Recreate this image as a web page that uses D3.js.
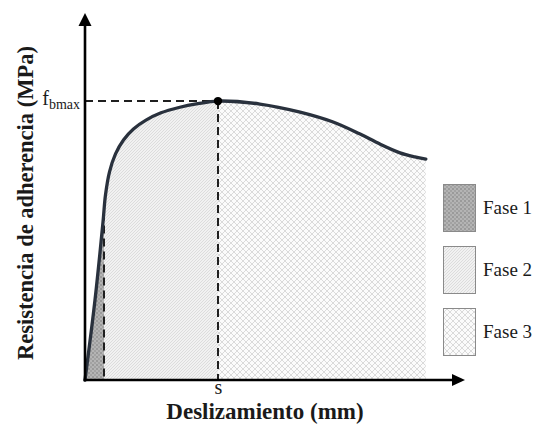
<!DOCTYPE html>
<html><head><meta charset="utf-8">
<script src="https://cdn.jsdelivr.net/npm/d3@7"></script>
<style>
body{margin:0;background:#fff}
text{font-family:"Liberation Serif","Times New Roman",serif;fill:#1a1a1a}
</style>
</head><body>
<svg id="c" width="536" height="424"></svg>
<script>
// ---- data (arbitrary units 0..100) ----
const slip   = [0, 2.63, 4.74, 5.39, 6.45, 8.03, 10.13, 12.76, 16.05, 20.0, 24.7, 29.7, 35, 46, 56.6, 65.3, 72.4, 77.6, 82.9, 86.8, 89.7];
const stress = [0, 21.8, 43.05, 50.4, 56.7, 61.6, 65.4, 68.4, 70.8, 72.8, 74.25, 75.3, 76.0, 75.2, 73.0, 70.3, 67.0, 64.3, 61.9, 60.8, 60.2];
const phaseBounds = [0, 5, 35, 89.7];           // Fase 1 | Fase 2 | Fase 3
const phases = ["Fase 1", "Fase 2", "Fase 3"];
const peakSlip = 35, peakStress = 76;
const xTickLabels = ["s"];
const yTickLabels = [["f", "bmax"]];
const xTitle = "Deslizamiento (mm)";
const yTitle = "Resistencia de adherencia (MPa)";

const svg = d3.select("#c");
const x = d3.scaleLinear().domain([0, 100]).range([85, 465]);
const y = d3.scaleLinear().domain([0, 100]).range([380, 13]);
const pts = slip.map((s, i) => [s, stress[i]]);
const curve = d3.curveCatmullRom.alpha(0.5);

// ---- patterns ----
const defs = svg.append("defs");
const p1 = defs.append("pattern").attr("id", "p1").attr("width", 4).attr("height", 4).attr("patternUnits", "userSpaceOnUse");
p1.append("rect").attr("width", 4).attr("height", 4).attr("fill", "#b4b4b4");
p1.append("rect").attr("width", 2).attr("height", 2).attr("fill", "#9a9a9a");
p1.append("rect").attr("x", 2).attr("y", 2).attr("width", 2).attr("height", 2).attr("fill", "#a2a2a2");
const p2 = defs.append("pattern").attr("id", "p2").attr("width", 3).attr("height", 3).attr("patternUnits", "userSpaceOnUse");
p2.append("rect").attr("width", 3).attr("height", 3).attr("fill", "#f1f1f1");
p2.append("path").attr("d", "M-1,1 L1,-1 M0,3 L3,0 M2,4 L4,2").attr("stroke", "#d2d2d2").attr("stroke-width", 0.7);
const p3 = defs.append("pattern").attr("id", "p3").attr("width", 6).attr("height", 6).attr("patternUnits", "userSpaceOnUse");
p3.append("rect").attr("width", 6).attr("height", 6).attr("fill", "#fbfbfb");
p3.append("path").attr("d", "M0,0 L6,6 M6,0 L0,6").attr("stroke", "#d6d6d6").attr("stroke-width", 0.9);
const fills = ["url(#p1)", "url(#p2)", "url(#p3)"];

// ---- areas per phase ----
const area = d3.area().x(d => x(d[0])).y0(y(0)).y1(d => y(d[1])).curve(curve);
phases.forEach((p, i) => {
  defs.append("clipPath").attr("id", "cl" + i).append("rect")
    .attr("x", x(phaseBounds[i])).attr("y", 0)
    .attr("width", x(phaseBounds[i + 1]) - x(phaseBounds[i])).attr("height", 424);
  svg.append("path").datum(pts).attr("d", area).attr("fill", fills[i]).attr("clip-path", `url(#cl${i})`);
});

// ---- dashed guides ----
const line = d3.line().x(d => x(d[0])).y(d => y(d[1])).curve(curve);
function dline(x1, y1, x2, y2) {
  svg.append("line").attr("x1", x1).attr("y1", y1).attr("x2", x2).attr("y2", y2)
    .attr("stroke", "#1f1f1f").attr("stroke-width", 2).attr("stroke-dasharray", "8,5");
}
const tmp = svg.append("path").datum(pts).attr("d", line).attr("fill", "none");
function curveY(xv) {
  const node = tmp.node(), L = node.getTotalLength();
  let lo = 0, hi = L;
  for (let k = 0; k < 40; k++) { const m = (lo + hi) / 2; if (node.getPointAtLength(m).x < x(xv)) lo = m; else hi = m; }
  return node.getPointAtLength(lo).y;
}
const yB = curveY(phaseBounds[1]);
tmp.remove();
dline(x(phaseBounds[1]), yB + 2, x(phaseBounds[1]), y(0));
dline(x(peakSlip), y(peakStress), x(peakSlip), y(0));
dline(x(0), y(peakStress), x(peakSlip), y(peakStress));

// ---- curve ----
svg.append("path").datum(pts).attr("d", line).attr("fill", "none")
  .attr("stroke", "#29313d").attr("stroke-width", 3.3).attr("stroke-linecap", "round");
svg.append("circle").attr("cx", x(peakSlip)).attr("cy", y(peakStress)).attr("r", 4.2).attr("fill", "#000");

// ---- axes ----
const xAxis = d3.axisBottom(x).tickValues([peakSlip]).tickSize(0).tickSizeOuter(0).tickPadding(0)
  .tickFormat((d, i) => xTickLabels[i]);
const gx = svg.append("g").attr("transform", `translate(0,${y(0)})`).call(xAxis);
gx.select(".domain").attr("stroke", "#000").attr("stroke-width", 2.6).attr("d", `M${x(0) - 1.3},0H${x(100) - 10}`);
gx.selectAll("text").attr("font-size", 20).attr("fill", "#1a1a1a");
svg.append("path").attr("d", `M${x(100)},${y(0)} L${x(100) - 13},${y(0) - 6} L${x(100) - 13},${y(0) + 6} Z`).attr("fill", "#000");

const yAxis = d3.axisLeft(y).tickValues([peakStress]).tickSize(0).tickSizeOuter(0).tickPadding(5).tickFormat("");
const gy = svg.append("g").attr("transform", `translate(${x(0)},0)`).call(yAxis);
gy.select(".domain").attr("stroke", "#000").attr("stroke-width", 2.6).attr("d", `M0,${y(0) + 1.3}V${y(100) + 10}`);
gy.selectAll(".tick text").each(function (d, i) {
  const t = d3.select(this).attr("fill", "#1a1a1a").attr("dy", "0.36em");
  t.append("tspan").attr("font-size", 20).text(yTickLabels[i][0]);
  t.append("tspan").attr("font-size", 14).attr("dy", 4).text(yTickLabels[i][1]);
});
svg.append("path").attr("d", `M${x(0)},${y(100)} L${x(0) - 6.5},${y(100) + 13} L${x(0) + 6.5},${y(100) + 13} Z`).attr("fill", "#000");

// ---- titles ----
svg.append("text").attr("x", 265).attr("y", 418.5).attr("text-anchor", "middle")
  .attr("font-size", 23).attr("font-weight", "bold").text(xTitle);
svg.append("text").attr("transform", "translate(33,203) rotate(-90)").attr("text-anchor", "middle")
  .attr("font-size", 22.5).attr("font-weight", "bold").text(yTitle);

// ---- legend ----
const lg = svg.append("g");
phases.forEach((p, i) => {
  const top = 184 + i * 62;
  lg.append("rect").attr("x", 443.5).attr("y", top + 0.5).attr("width", 32).attr("height", 47)
    .attr("fill", fills[i]).attr("stroke", "#8a8a8a").attr("stroke-width", 1);
  lg.append("text").attr("x", 483).attr("y", top + 30).attr("font-size", 19).text(p);
});
</script>
</body></html>
